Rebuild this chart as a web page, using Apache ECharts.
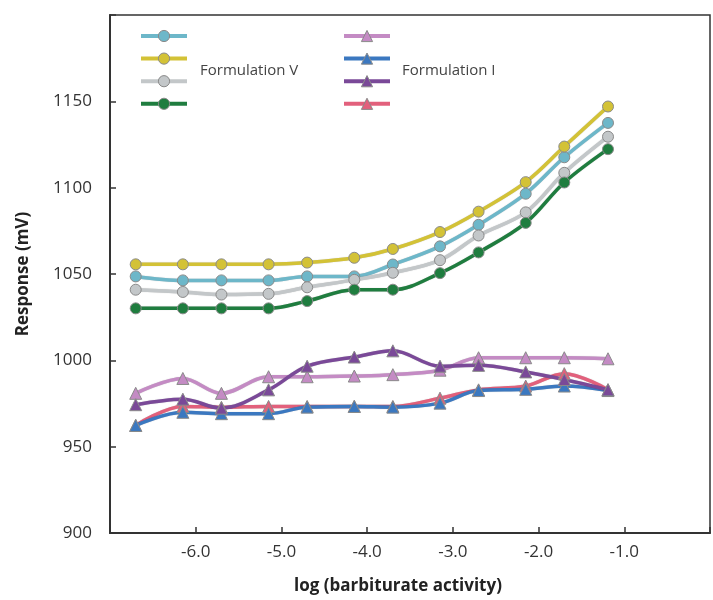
<!DOCTYPE html>
<html>
<head>
<meta charset="utf-8">
<script src="https://cdn.jsdelivr.net/npm/echarts@6/dist/echarts.min.js"></script>
<style>html,body{margin:0;padding:0;background:#fff}#c{width:713px;height:600px}</style>
</head>
<body>
<div id="c"></div>
<script>
// x values: log (barbiturate activity)
const logActivity = [-6.7, -6.15, -5.7, -5.15, -4.7, -4.15, -3.7, -3.15, -2.7, -2.15, -1.7, -1.19];
// Formulation V (circles)
const v1 = [1048.6, 1046.3, 1046.3, 1046.3, 1048.6, 1048.6, 1055.5, 1066.0, 1078.5, 1096.5, 1117.6, 1137.5];
const v2 = [1055.6, 1055.6, 1055.6, 1055.6, 1056.6, 1059.4, 1064.5, 1074.3, 1086.1, 1103.2, 1123.8, 1147.0];
const v3 = [1040.9, 1039.6, 1038.1, 1038.5, 1042.3, 1046.6, 1050.7, 1058.0, 1072.3, 1085.7, 1108.6, 1129.5];
const v4 = [1030.1, 1030.1, 1030.1, 1030.1, 1034.3, 1040.9, 1040.9, 1050.5, 1062.5, 1079.6, 1103.0, 1122.3];
// Formulation I (triangles)
const i1 = [980.9, 989.5, 980.9, 990.5, 990.5, 990.9, 991.7, 994.3, 1001.5, 1001.5, 1001.5, 1000.9];
const i2 = [962.3, 969.9, 969.1, 969.1, 972.9, 973.3, 972.9, 975.2, 982.5, 983.2, 985.1, 982.5];
const i3 = [974.3, 977.5, 972.3, 982.9, 996.6, 1001.9, 1005.5, 996.6, 997.1, 993.3, 988.9, 982.9];
const i4 = [962.3, 973.3, 972.8, 973.3, 973.3, 973.3, 973.3, 978.1, 982.9, 985.1, 992.3, 983.0];

const yTicks = [900, 950, 1000, 1050, 1100, 1150];
const xTicks = [-6, -5, -4, -3, -2, -1];
const legendV = 'Formulation V';
const legendI = 'Formulation I';

const pts = arr => arr.map((y, k) => [logActivity[k], y]);

const circleSeries = [
  {name: 'V1', data: v1, color: '#6db7c9'},
  {name: 'V2', data: v2, color: '#d3c236'},
  {name: 'V3', data: v3, color: '#c3c7c9'},
  {name: 'V4', data: v4, color: '#1f7d3f'}
];
const triSeries = [
  {name: 'I1', data: i1, color: '#c48bc4'},
  {name: 'I4', data: i4, color: '#e2607c'},
  {name: 'I2', data: i2, color: '#3b78c0'},
  {name: 'I3', data: i3, color: '#7a4998'}
];

function mk(s, symbol) {
  return {
    name: s.name, type: 'line', smooth: 0.35,
    data: pts(s.data),
    symbol: symbol, symbolSize: symbol === 'circle' ? 11 : 12,
    showSymbol: true,
    lineStyle: {color: s.color, width: 3.5, shadowColor: 'rgba(0,0,0,0.25)', shadowBlur: 1},
    itemStyle: {color: s.color, borderColor: '#8a8a8a', borderWidth: 1},
    emphasis: {disabled: true},
    z: 2
  };
}

const chart = echarts.init(document.getElementById('c'), null, {renderer: 'canvas'});
const axisFont = {fontFamily: 'Open Sans', fontSize: 17, color: '#333'};
const legendCommon = {orient: 'vertical', top: 29, padding: 0, itemWidth: 46, itemHeight: 14, itemGap: 9.5,
  formatter: () => '', selectedMode: false, textStyle: {fontSize: 1},
  lineStyle: {width: 4}, itemStyle: {borderColor: '#8a8a8a', borderWidth: 1}};
chart.setOption({
  animation: false,
  backgroundColor: '#fff',
  grid: {left: 110, top: 15, right: -8, bottom: 62, show: true, borderColor: '#333', borderWidth: 1.5, containLabel: false},
  xAxis: {
    type: 'value', min: -7, max: 0, interval: 1,
    name: 'log (barbiturate activity)', nameLocation: 'middle', nameGap: 45,
    nameTextStyle: {fontFamily: 'Open Sans', fontWeight: 'bold', fontSize: 17, color: '#222', padding: [0, 24, 0, 0]},
    axisLine: {onZero: false, lineStyle: {color: '#333', width: 2}},
    axisTick: {inside: true, length: 6, lineStyle: {color: '#333', width: 1.5}},
    axisLabel: Object.assign({margin: 11, formatter: v => xTicks.includes(v) ? v.toFixed(1) : ''}, axisFont),
    splitLine: {show: false}
  },
  yAxis: {
    type: 'value', min: 900, max: 1200, interval: 50,
    name: 'Response (mV)', nameLocation: 'middle', nameGap: 78, nameRotate: 90,
    nameTextStyle: {fontFamily: 'Open Sans', fontWeight: 'bold', fontSize: 17, color: '#222'},
    axisLine: {onZero: false, lineStyle: {color: '#333', width: 2}},
    axisTick: {inside: true, length: 6, lineStyle: {color: '#333', width: 1.5}},
    axisLabel: Object.assign({margin: 18, formatter: v => yTicks.includes(v) ? String(v) : ''}, axisFont),
    splitLine: {show: false}
  },
  legend: [
    Object.assign({left: 139, data: circleSeries.map(s => s.name)}, legendCommon),
    Object.assign({left: 342, data: ['I1', 'I2', 'I3', 'I4']}, legendCommon)
  ],
  graphic: [
    {type: 'text', left: 200, top: 63, style: {text: legendV, fontFamily: 'Open Sans', fontSize: 15, fill: '#444'}},
    {type: 'text', left: 402, top: 63, style: {text: legendI, fontFamily: 'Open Sans', fontSize: 15, fill: '#444'}}
  ],
  series: circleSeries.map(s => mk(s, 'circle')).concat(triSeries.map(s => mk(s, 'triangle')))
});
</script>
</body>
</html>
